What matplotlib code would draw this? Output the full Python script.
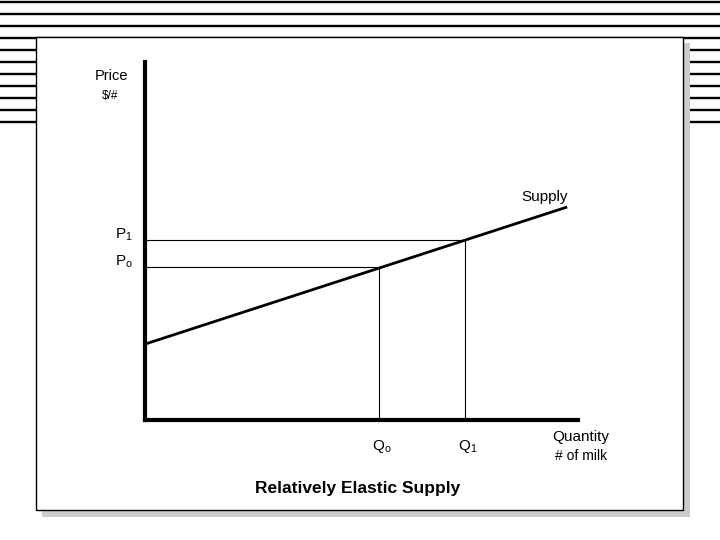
import matplotlib.pyplot as plt

plt.rcParams['font.family'] = ['Liberation Sans', 'DejaVu Sans']
plt.rcParams['mathtext.fontset'] = 'custom'
plt.rcParams['mathtext.rm'] = 'Liberation Sans'
plt.rcParams['mathtext.it'] = 'Liberation Sans:italic'

# supply curve (quantity, price) on a 0-100 scale
supply_q = [0.0, 97.5]
supply_p = [21.2, 59.5]

# equilibrium points: Qo/Po and Q1/P1
q_points = [54.0, 73.9]
p_points = [42.7, 50.3]
q_labels = [r'Q$_{\mathrm{o}}$', r'Q$_{\mathrm{1}}$']
p_labels = [r'P$_{\mathrm{o}}$', r'P$_{\mathrm{1}}$']

title = 'Relatively Elastic Supply'

W, H = 720, 540
fig = plt.figure(figsize=(7.2, 5.4), dpi=100)

# slide background: stripes, shadow and white box (pixel coords)
bg = fig.add_axes([0, 0, 1, 1])
bg.set_xlim(0, W)
bg.set_ylim(H, 0)
bg.axis('off')
for i in range(11):
    y = 2 + 12 * i
    bg.plot([0, W], [y, y], color='black', lw=1.7, zorder=1)
bg.add_patch(plt.Rectangle((42, 43), 648, 474, facecolor='#cccccc',
                           edgecolor='none', zorder=2))
bg.add_patch(plt.Rectangle((36, 37), 647, 473, facecolor='white',
                           edgecolor='black', lw=1.0, zorder=3))

# main chart
ax = fig.add_axes([145 / W, 120 / H, 433 / W, 358 / H])
ax.set_xlim(0, 100)
ax.set_ylim(0, 100)
ax.patch.set_visible(False)
for s in ['top', 'right']:
    ax.spines[s].set_visible(False)
for s in ['left', 'bottom']:
    ax.spines[s].set_linewidth(3.0)
    ax.spines[s].set_capstyle('projecting')
ax.set_xticks([])
ax.set_yticks([])

ax.plot(supply_q, supply_p, color='black', lw=2.0, solid_capstyle='butt')

for q, p in zip(q_points, p_points):
    ax.plot([0, q], [p, p], color='black', lw=0.8)
    ax.plot([q, q], [0, p], color='black', lw=0.8)

for p, lab in zip(p_points, p_labels):
    ax.annotate(lab, (0, p), xytext=(-9, 1), textcoords='offset points',
                ha='right', va='baseline', fontsize=11)
for q, lab in zip(q_points, q_labels):
    ax.annotate(lab, (q, 0), xytext=(2, -13), textcoords='offset points',
                ha='center', va='top', fontsize=11)

ax.annotate('Supply', (supply_q[1], supply_p[1]), xytext=(-16, 4.3),
            textcoords='offset points', ha='center', va='baseline',
            fontsize=11)

# axis captions and title (pixel coords)
bg.text(111.5, 76, 'Price', ha='center', va='center', fontsize=10.5,
        zorder=5)
bg.text(110, 96, '$/#', ha='center', va='center', fontsize=8.5, zorder=5)
bg.text(581, 437, 'Quantity', ha='center', va='center', fontsize=11, zorder=5)
bg.text(581, 456, '# of milk', ha='center', va='center', fontsize=10,
        zorder=5)
bg.text(358, 488, title, ha='center', va='center', fontsize=12.5,
        fontweight='bold', zorder=5)

fig.savefig('out.png', dpi=100)
